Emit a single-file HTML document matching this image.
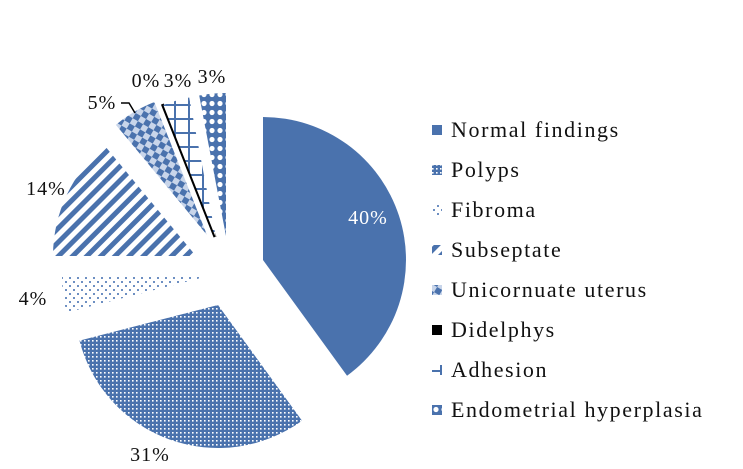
<!DOCTYPE html>
<html><head><meta charset="utf-8">
<style>
html,body{margin:0;padding:0;background:#fff;}
svg{display:block;font-family:"Liberation Serif",serif;}
</style></head>
<body>
<svg id="chart" width="743" height="469" viewBox="0 0 743 469">
<defs>
  <pattern id="p-polyps" width="4" height="4" patternUnits="userSpaceOnUse">
    <rect width="4" height="4" fill="#4a72ad"/><rect x="0" y="0" width="1.6" height="1.6" fill="#fff"/>
  </pattern>
  <pattern id="p-fibroma" width="8" height="8" patternUnits="userSpaceOnUse">
    <rect width="8" height="8" fill="#fff"/><rect x="1" y="1" width="2" height="2" fill="#6d8fc2"/><rect x="5" y="5" width="2" height="2" fill="#6d8fc2"/>
  </pattern>
  <pattern id="p-sub" width="10" height="10" patternUnits="userSpaceOnUse" patternTransform="rotate(45)">
    <rect width="10" height="10" fill="#fff"/><rect x="0" y="0" width="5" height="10" fill="#4a72ad"/>
  </pattern>
  <pattern id="p-uni" width="12" height="12" patternUnits="userSpaceOnUse" patternTransform="rotate(30)">
    <rect width="12" height="12" fill="#c8d5ea"/>
    <rect x="0" y="0" width="6" height="6" fill="#4a72ad"/>
    <rect x="6" y="6" width="6" height="6" fill="#4a72ad"/>
  </pattern>
  <pattern id="p-adh" width="14" height="14" patternUnits="userSpaceOnUse">
    <rect width="14" height="14" fill="#fff"/><rect x="6" y="0" width="2" height="14" fill="#4a72ad"/><rect x="0" y="6" width="14" height="2" fill="#4a72ad"/>
  </pattern>
  <pattern id="p-endo" width="8" height="9" patternUnits="userSpaceOnUse">
    <rect width="8" height="9" fill="#4a72ad"/><circle cx="4" cy="4.5" r="2.6" fill="#fff"/>
  </pattern>
</defs>
<g id="slices"></g>
<g id="labels"></g>
<polyline points="121,103 129,103 135,113" fill="none" stroke="#000" stroke-width="1.5"/>
<g id="legend"></g>
</svg>
<script>
const categories = ["Normal findings","Polyps","Fibroma","Subseptate","Unicornuate uterus","Didelphys","Adhesion","Endometrial hyperplasia"];
const values = [40,31,4,14,5,0,3,3];
const valueLabels = ["40%","31%","4%","14%","5%","0%","3%","3%"];

const fills = ["#4a72ad","url(#p-polyps)","url(#p-fibroma)","url(#p-sub)","url(#p-uni)","#000","url(#p-adh)","url(#p-endo)"];
const offsets = [[19,-6],[-26,39],[-39,11],[-48,-10],[-37,-31],[-29,-29],[-28,-28],[-18,-30]];
const labelPos = [[368,224],[150,461],[33,305],[46,195],[102,109],[146,87],[178,87],[212,83]];
const C = [244,266], R = 143;
const NS = "http://www.w3.org/2000/svg";
const total = values.reduce((a,b)=>a+b,0);
function pt(cx,cy,ang,r){return [cx+r*Math.sin(ang), cy-r*Math.cos(ang)];}
const gS = document.getElementById('slices'), gL = document.getElementById('labels'), gG = document.getElementById('legend');
let acc = 0;
values.forEach((v,i)=>{
  const a0 = acc/total*2*Math.PI; acc += v; const a1 = acc/total*2*Math.PI;
  const cx = C[0]+offsets[i][0], cy = C[1]+offsets[i][1];
  const p0 = pt(cx,cy,a0,R), p1 = pt(cx,cy,a1,R);
  let el;
  if (v === 0) {
    el = document.createElementNS(NS,'line');
    el.setAttribute('x1',cx); el.setAttribute('y1',cy); el.setAttribute('x2',p0[0]); el.setAttribute('y2',p0[1]);
    el.setAttribute('stroke','#000'); el.setAttribute('stroke-width','3');
  } else {
    el = document.createElementNS(NS,'path');
    const large = (a1-a0) > Math.PI ? 1 : 0;
    el.setAttribute('d',`M${cx},${cy} L${p0[0]},${p0[1]} A${R},${R} 0 ${large} 1 ${p1[0]},${p1[1]} Z`);
    el.setAttribute('fill',fills[i]);
  }
  
  
  gS.appendChild(el);

  const t = document.createElementNS(NS,'text');
  t.setAttribute('x',labelPos[i][0]); t.setAttribute('y',labelPos[i][1]);
  t.setAttribute('text-anchor','middle'); t.setAttribute('font-size','20');
  t.setAttribute('letter-spacing','1');
  t.setAttribute('fill', i===0 ? '#fff' : '#111');
  t.textContent = valueLabels[i];
  
  
  gL.appendChild(t);

  const y = 130 + i*40;
  const m = document.createElementNS(NS,'rect');
  m.setAttribute('x',432); m.setAttribute('y',y-5); m.setAttribute('width',10); m.setAttribute('height',10);
  m.setAttribute('fill', fills[i]);
  
  
  gG.appendChild(m);
  const lt = document.createElementNS(NS,'text');
  lt.setAttribute('x',451); lt.setAttribute('y',y+7); lt.setAttribute('font-size','22'); lt.setAttribute('fill','#111');
  lt.setAttribute('letter-spacing','1.6');
  lt.textContent = categories[i];
  
  
  gG.appendChild(lt);
});
</script>
</body></html>
